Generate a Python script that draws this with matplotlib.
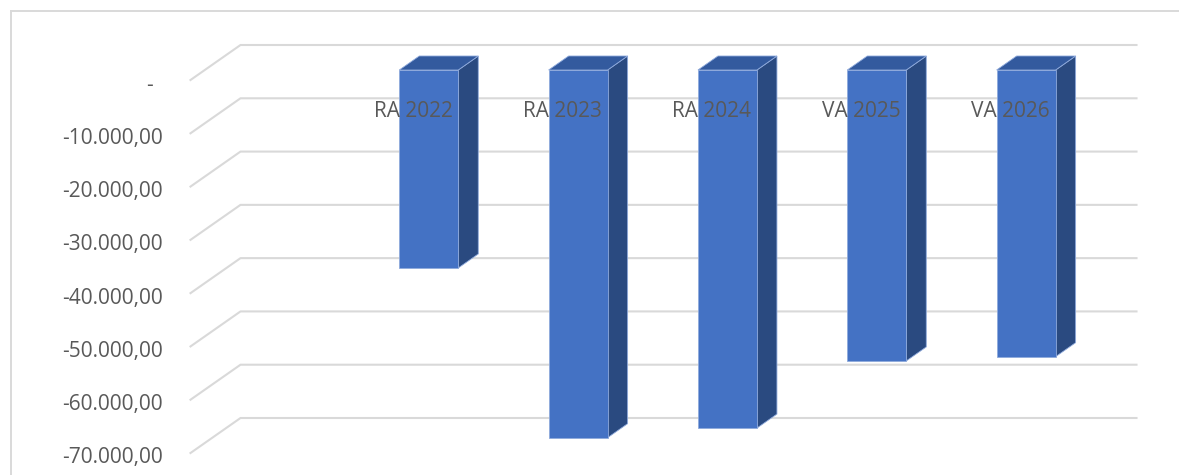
import numpy as np
import matplotlib
matplotlib.use("Agg")
import matplotlib.pyplot as plt
from matplotlib.patches import Polygon
from matplotlib.lines import Line2D
import matplotlib.transforms as mtransforms

plt.rcParams['font.family'] = ['Open Sans', 'DejaVu Sans']

# ---- data ----
categories = ["RA 2022", "RA 2023", "RA 2024", "VA 2025", "VA 2026"]
values = [-37150, -69000, -67200, -54600, -53800]
tick_values = [0, -10000, -20000, -30000, -40000, -50000, -60000, -70000]
tick_labels = ["-", "-10.000,00", "-20.000,00", "-30.000,00", "-40.000,00",
               "-50.000,00", "-60.000,00", "-70.000,00"]

W, H = 1179, 477
fig = plt.figure(figsize=(W / 100, H / 100), dpi=100)
fig.patch.set_facecolor("white")

# front plane of the 3D box in pixels
left_px, right_px, top_px, bot_px = 190.5, 1086.5, 81, 454
ax = fig.add_axes([left_px / W, (H - bot_px) / H, (right_px - left_px) / W, (bot_px - top_px) / H])
ax.set_xlim(-1.5, 4.5)
ax.set_ylim(-70000, 0)
ax.axis("off")

# depth offset (in data units)
px_per_cat = (right_px - left_px) / 6.0
px_per_val = (bot_px - top_px) / 70000.0
DX = 50 / px_per_cat
DY = 35 / px_per_val

grid_c = "#D9D9D9"
for tv in tick_values:
    ax.add_line(Line2D([-1.5, -1.5 + DX, 4.5 + DX], [tv, tv + DY, tv + DY],
                       color=grid_c, lw=1.5, clip_on=False, zorder=1))

# tick labels
for tv, tl in zip(tick_values, tick_labels):
    xo = -38 if tl == "-" else -28
    off = mtransforms.offset_copy(ax.transData, fig=fig, x=xo, y=-9.5, units='dots')
    ax.text(-1.5, tv, tl, transform=off, ha="right", va="baseline",
            fontsize=15, color="#595959", clip_on=False)

# bars
bw = 0.395
f1, f2 = 10 / 35, 24 / 35
front_c = "#4472C4"
side_c = "#2A4A80"
top_c = "#335A9E"
edge_c = "#8FAADC"
for i, v in enumerate(values):
    x0 = i - bw / 2 + f1 * DX
    x1 = i + bw / 2 + f1 * DX
    y0 = f1 * DY
    ddx = (f2 - f1) * DX
    ddy = (f2 - f1) * DY
    side = Polygon([(x1, y0), (x1 + ddx, y0 + ddy), (x1 + ddx, v + y0 + ddy), (x1, v + y0)],
                   closed=True, facecolor=side_c, edgecolor=edge_c, lw=0.6, clip_on=False, zorder=3)
    top = Polygon([(x0, y0), (x1, y0), (x1 + ddx, y0 + ddy), (x0 + ddx, y0 + ddy)],
                  closed=True, facecolor=top_c, edgecolor=edge_c, lw=0.6, clip_on=False, zorder=3)
    front = Polygon([(x0, v + y0), (x1, v + y0), (x1, y0), (x0, y0)],
                    closed=True, facecolor=front_c, edgecolor=edge_c, lw=0.6, clip_on=False, zorder=4)
    ax.add_patch(side)
    ax.add_patch(top)
    ax.add_patch(front)

# category labels
offc = mtransforms.offset_copy(ax.transData, fig=fig, x=-1.5, y=-36, units='dots')
for i, c in enumerate(categories):
    ax.text(i, 0, c, transform=offc, ha="center", va="baseline",
            fontsize=15, color="#595959", zorder=6, clip_on=False)

# outer chart frame
fig.add_artist(Line2D([11 / W, 11 / W], [(H - 12) / H, (H - 475) / H], color=grid_c, lw=1.4,
                      transform=fig.transFigure))
fig.add_artist(Line2D([11 / W, 1.0], [(H - 12) / H, (H - 12) / H], color=grid_c, lw=1.4,
                      transform=fig.transFigure))

fig.savefig("out.png", dpi=100, facecolor="white")
